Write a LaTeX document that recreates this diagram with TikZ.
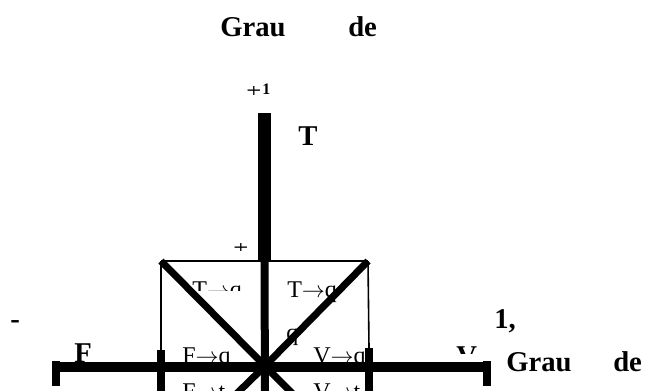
\documentclass[tikz,border=0pt]{standalone}
\usepackage{fontspec}
\setmainfont{Liberation Serif}
\newcommand{\rarr}{\ensuremath{\rightarrow}}
\begin{document}
\begin{tikzpicture}[x=0.75pt,y=-0.75pt,
  big/.style={font=\fontsize{21.5}{24}\selectfont\bfseries, inner sep=0pt, anchor=base west},
  small/.style={font=\fontsize{12}{13}\selectfont\bfseries, inner sep=0pt, anchor=base west},
  lab/.style={font=\fontsize{18}{20}\selectfont, inner sep=0pt, anchor=base west},
  plusfont/.style={font=\fontsize{20}{22}\selectfont, inner sep=0pt, anchor=base west},
  thinline/.style={line width=1.2pt},
  axisbar/.style={line width=7.5pt},
  diag/.style={line width=5.3pt},
  capbar/.style={line width=5.5pt}]
\clip (0,0) rectangle (653,390);
% texts
\node[big] (t1) at (220,36) {Grau};
\node[big] (t2) at (348,36) {de};
\node[big] (tT) at (298,145) {T};
\node[big] (tF) at (74,362) {F};
\begin{scope}
  \clip (450,340) rectangle (482,353);
  \node[big] (tV) at (456,365) {V};
\end{scope}
\node[big] (tm) at (10,328) {-};
\node[big] (tone) at (494,328) {1,};
\node[big] (r1) at (506,371) {Grau};
\node[big] (r2) at (613,371) {de};
\begin{scope}
  \clip (240,86) rectangle (262,94);
  \node[plusfont] (plusA) at (246,99.5) {+};
\end{scope}
\node[small] (oneA) at (262,94) {1};
\begin{scope}
  \clip (228,243) rectangle (252,250.5);
  \node[plusfont] (plusB) at (233,256.5) {+};
\end{scope}
\node[lab] (lTq) at (287,297) {T\rarr q};
\begin{scope}
  \clip (185,275) rectangle (240,290);
  \node[lab] (lTl) at (192,297) {T\rarr q};
\end{scope}
\node[lab] (lq) at (286,340) {q};
\node[lab] (lFq) at (182,363) {F\rarr q};
\node[lab] (lVq) at (313,363) {V\rarr q};
\node[lab] (lFb) at (182,399) {F\rarr t};
\node[lab] (lVb) at (313,399) {V\rarr t};
% key points
\coordinate (tl) at (161,261);
\coordinate (tr) at (368,261);
\coordinate (top) at (264.5,113);
\coordinate (topmid) at (264.5,261);
\coordinate (c) at (265,366);
\coordinate (bot) at (265,400);
\coordinate (le) at (56,367);
\coordinate (re) at (487,367);
\coordinate (ltick) at (161,350);
\coordinate (rtick) at (369,348);
\coordinate (lbot) at (161,400);
\coordinate (rbot) at (369,400);
\coordinate (dlend) at (305,406);
\coordinate (drend) at (224,406);
% thin frame
\draw[thinline] (tl) -- (tr);
\draw[thinline] (tl) -- (ltick);
\draw[thinline] (tr) -- (rtick);
% vertical axis
\draw[line width=9.75pt] (top) -- (topmid);
\draw[line width=6pt] (topmid) -- (bot);
% horizontal axis
\draw[axisbar] (le) -- (re);
\draw[capbar] ([yshift=-19*0.75pt]le) -- ([yshift=6*0.75pt]le);
\draw[line width=6pt] ([yshift=-19*0.75pt]re) -- ([yshift=6*0.75pt]re);
\draw[capbar] (ltick) -- (lbot);
\draw[capbar] (rtick) -- (rbot);
% diagonals
\draw[diag] (tl) -- (c) -- (dlend);
\draw[diag] (tr) -- (c) -- (drend);
\end{tikzpicture}
\end{document}
